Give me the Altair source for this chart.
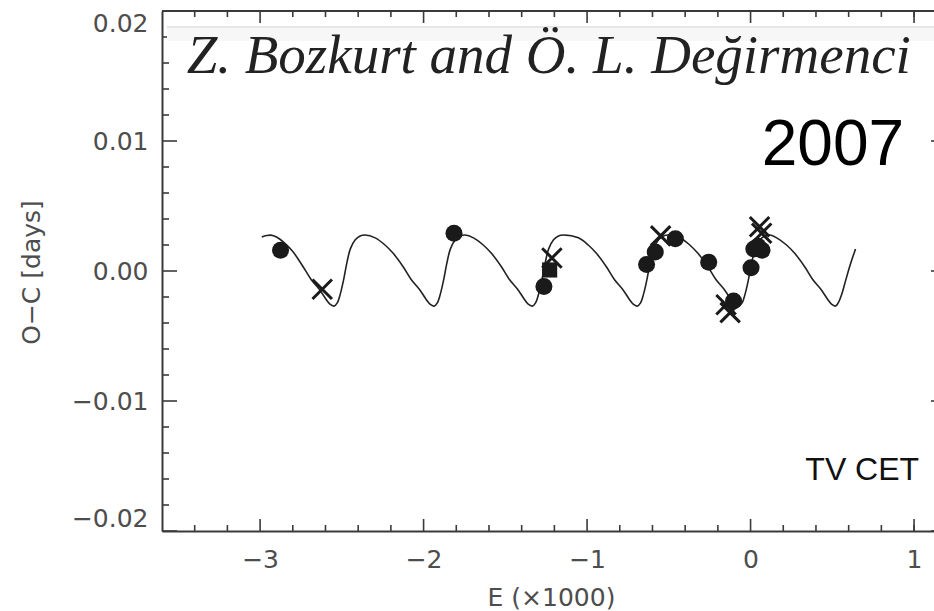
import altair as alt
import pandas as pd

# ---- light-time-effect fit curve, O-C in days vs epoch (x1000) ----
E_curve = [
    -2.990, -2.960, -2.935, -2.900, -2.850, -2.800,
    -2.738, -2.688, -2.638, -2.598, -2.573, -2.548, -2.528, -2.508, -2.488, -2.468,
    -2.448, -2.418, -2.388, -2.358,
    -2.296, -2.236, -2.186, -2.126, -2.076, -2.026, -1.986, -1.961, -1.936, -1.916,
    -1.896, -1.876, -1.856, -1.836, -1.806, -1.776, -1.746,
    -1.695, -1.635, -1.585, -1.525, -1.475, -1.425, -1.385, -1.360, -1.335, -1.315,
    -1.295, -1.275, -1.255, -1.235, -1.205, -1.175, -1.145,
    -1.053, -0.993, -0.943, -0.883, -0.833, -0.783, -0.743, -0.718, -0.693, -0.673,
    -0.653, -0.633, -0.613, -0.593, -0.563, -0.533, -0.503,
    -0.432, -0.372, -0.322, -0.262, -0.212, -0.162, -0.122, -0.097, -0.072, -0.052,
    -0.032, -0.012, 0.008, 0.028, 0.058, 0.088, 0.118,
    0.160, 0.220, 0.270, 0.330, 0.380, 0.430, 0.470, 0.495, 0.520, 0.540,
    0.560, 0.580, 0.610, 0.642,
]
OC_curve = [
    0.00262, 0.00273, 0.00276, 0.00262, 0.00215, 0.00150,
    0.00035, -0.00065, -0.00140, -0.00215, -0.00255, -0.00270, -0.00245, -0.00170, -0.00060, 0.00070,
    0.00170, 0.00240, 0.00270, 0.00277,
    0.00255, 0.00200, 0.00136, 0.00035, -0.00065, -0.00140, -0.00215, -0.00255, -0.00270, -0.00245,
    -0.00170, -0.00060, 0.00070, 0.00170, 0.00240, 0.00270, 0.00277,
    0.00255, 0.00200, 0.00136, 0.00035, -0.00065, -0.00140, -0.00215, -0.00255, -0.00270, -0.00245,
    -0.00170, -0.00060, 0.00070, 0.00170, 0.00240, 0.00270, 0.00277,
    0.00255, 0.00200, 0.00136, 0.00035, -0.00065, -0.00140, -0.00215, -0.00255, -0.00270, -0.00245,
    -0.00170, -0.00060, 0.00070, 0.00170, 0.00240, 0.00270, 0.00277,
    0.00255, 0.00200, 0.00136, 0.00035, -0.00065, -0.00140, -0.00215, -0.00255, -0.00270, -0.00245,
    -0.00170, -0.00060, 0.00070, 0.00170, 0.00240, 0.00270, 0.00277,
    0.00255, 0.00200, 0.00136, 0.00035, -0.00065, -0.00140, -0.00215, -0.00255, -0.00270, -0.00235,
    -0.00170, -0.00080, 0.00050, 0.00170,
]

# ---- observed minima ----
circle_E = [-2.875, -1.814, -1.264, -0.636, -0.583, -0.460, -0.256, -0.104, 0.003, 0.020, 0.045, 0.070]
circle_OC = [0.0016, 0.0029, -0.0012, 0.0005, 0.00146, 0.00248, 0.00068, -0.0023, 0.00025, 0.0017, 0.0019, 0.0016]

square_E = [-1.229]
square_OC = [0.00008]

cross_E = [-2.620, -1.215, -0.550, -0.150, -0.125, 0.055, 0.068]
cross_OC = [-0.0014, 0.0010, 0.0027, -0.0026, -0.0032, 0.0034, 0.0029]

# ---- axis ticks ----
x_major = [-3, -2, -1, 0, 1]
x_minor = [-3.4, -3.2, -2.8, -2.6, -2.4, -2.2, -1.8, -1.6, -1.4, -1.2,
           -0.8, -0.6, -0.4, -0.2, 0.2, 0.4, 0.6, 0.8, 1.0]
y_major = [-0.02, -0.01, 0.0, 0.01, 0.02]
y_minor = [-0.018, -0.016, -0.014, -0.012, -0.008, -0.006, -0.004, -0.002,
           0.002, 0.004, 0.006, 0.008, 0.012, 0.014, 0.016, 0.018]

W, H = 772, 520
AX = "#3a3a3a"
TXT = "#4d4d4d"
INK = "#1a1a1a"
FONT = "DejaVu Sans"

xscale = alt.Scale(domain=[-3.6, 1.122], nice=False, zero=False)
yscale = alt.Scale(domain=[-0.02, 0.02], nice=False, zero=False)

xaxis = alt.Axis(
    values=x_major, ticks=False, grid=False, domain=True,
    domainColor=AX, domainWidth=2, labelFlush=False,
    labelFont=FONT, labelFontSize=25, labelColor=TXT, labelPadding=16,
    title="E (×1000)", titleFont=FONT, titleFontSize=25, titleFontWeight="normal",
    titleColor=TXT, titleX=389, titleY=66, titleBaseline="middle", titleAlign="center",
)
yaxis = alt.Axis(
    values=y_major, format=".2f", ticks=False, grid=False, domain=True,
    domainColor=AX, domainWidth=2, labelFlush=True,
    labelFont=FONT, labelFontSize=25, labelColor=TXT, labelPadding=14,
    title="O−C [days]", titleFont=FONT, titleFontSize=25, titleFontWeight="normal",
    titleColor=TXT, titleX=-131, titleY=261, titleAngle=-90,
    titleBaseline="middle", titleAlign="center",
)


def X(field):
    return alt.X(field, type="quantitative", scale=xscale, axis=xaxis)


def Y(field):
    return alt.Y(field, type="quantitative", scale=yscale, axis=yaxis)


curve_df = pd.DataFrame({"E": E_curve, "OC": OC_curve})
circle_df = pd.DataFrame({"E": circle_E, "OC": circle_OC})
square_df = pd.DataFrame({"E": square_E, "OC": square_OC})
cross_df = pd.DataFrame({"E": cross_E, "OC": cross_OC})

curve = alt.Chart(curve_df).mark_line(
    color="#222222", strokeWidth=1.6, interpolate="catmull-rom"
).encode(x=X("E"), y=Y("OC"), order=alt.Order("E:Q"))

circles = alt.Chart(circle_df).mark_circle(
    size=290, color=INK, opacity=1
).encode(x=X("E"), y=Y("OC"))

squares = alt.Chart(square_df).mark_square(
    size=230, color=INK, opacity=1
).encode(x=X("E"), y=Y("OC"))

crosses = alt.Chart(cross_df).mark_point(
    shape="M -1 -1 L 1 1 M -1 1 L 1 -1", filled=False, size=380,
    strokeWidth=3, color=INK, opacity=1
).encode(x=X("E"), y=Y("OC"))

# inward-pointing ticks on the frame
xmaj_df = pd.DataFrame({"E": x_major})
xmin_df = pd.DataFrame({"E": x_minor})
ymaj_df = pd.DataFrame({"OC": y_major})
ymin_df = pd.DataFrame({"OC": y_minor})
tick_style = dict(color=AX, strokeWidth=1.6)

ticks = [
    alt.Chart(xmaj_df).mark_rule(**tick_style).encode(x=X("E"), y=alt.value(H), y2=alt.value(H - 12)),
    alt.Chart(xmin_df).mark_rule(**tick_style).encode(x=X("E"), y=alt.value(H), y2=alt.value(H - 6)),
    alt.Chart(xmaj_df).mark_rule(**tick_style).encode(x=X("E"), y=alt.value(0), y2=alt.value(12)),
    alt.Chart(xmin_df).mark_rule(**tick_style).encode(x=X("E"), y=alt.value(0), y2=alt.value(6)),
    alt.Chart(ymaj_df).mark_rule(**tick_style).encode(y=Y("OC"), x=alt.value(0), x2=alt.value(15)),
    alt.Chart(ymin_df).mark_rule(**tick_style).encode(y=Y("OC"), x=alt.value(0), x2=alt.value(7)),
    alt.Chart(ymaj_df).mark_rule(**tick_style).encode(y=Y("OC"), x=alt.value(W - 3), x2=alt.value(W)),
]

# top frame line
top_line = alt.Chart(xmaj_df).mark_rule(color=AX, strokeWidth=2).encode(
    x=alt.value(0), x2=alt.value(W), y=alt.value(0)
)

# author banner: faint strip along its upper edge
banner_bg = alt.Chart(xmaj_df).mark_rect(color="#f7f7f7").encode(
    x=alt.value(5), x2=alt.value(W), y=alt.value(16), y2=alt.value(30)
)
banner_edge = alt.Chart(xmaj_df).mark_rule(color="#e6e6e6", strokeWidth=1).encode(
    x=alt.value(5), x2=alt.value(W), y=alt.value(16)
)

label_df = pd.DataFrame({
    "E": [-3.449, 0.939, 1.031],
    "OC": [0.01523, 0.00815, -0.01608],
    "text": ["Z. Bozkurt and Ö. L. Değirmenci", "2007", "TV CET"],
})
authors = alt.Chart(label_df.iloc[[0]]).mark_text(
    font="Liberation Serif", fontStyle="italic", fontSize=55, color="#222222",
    align="left", baseline="alphabetic"
).encode(x=X("E"), y=Y("OC"), text="text:N")
year = alt.Chart(label_df.iloc[[1]]).mark_text(
    font="Liberation Sans", fontSize=64, color="#000000",
    align="right", baseline="alphabetic"
).encode(x=X("E"), y=Y("OC"), text="text:N")
star = alt.Chart(label_df.iloc[[2]]).mark_text(
    font="Liberation Sans", fontSize=32, color="#111111",
    align="right", baseline="alphabetic"
).encode(x=X("E"), y=Y("OC"), text="text:N")

chart = alt.layer(
    curve, squares, circles, crosses, *ticks, top_line, banner_bg, banner_edge,
    authors, year, star
).properties(
    width=W, height=H, autosize="none",
    padding={"left": 162, "top": 11, "right": 0, "bottom": 80},
    background="white",
).configure_view(stroke=None)

chart.save("out.html", embed_options={"renderer": "svg", "actions": False})
